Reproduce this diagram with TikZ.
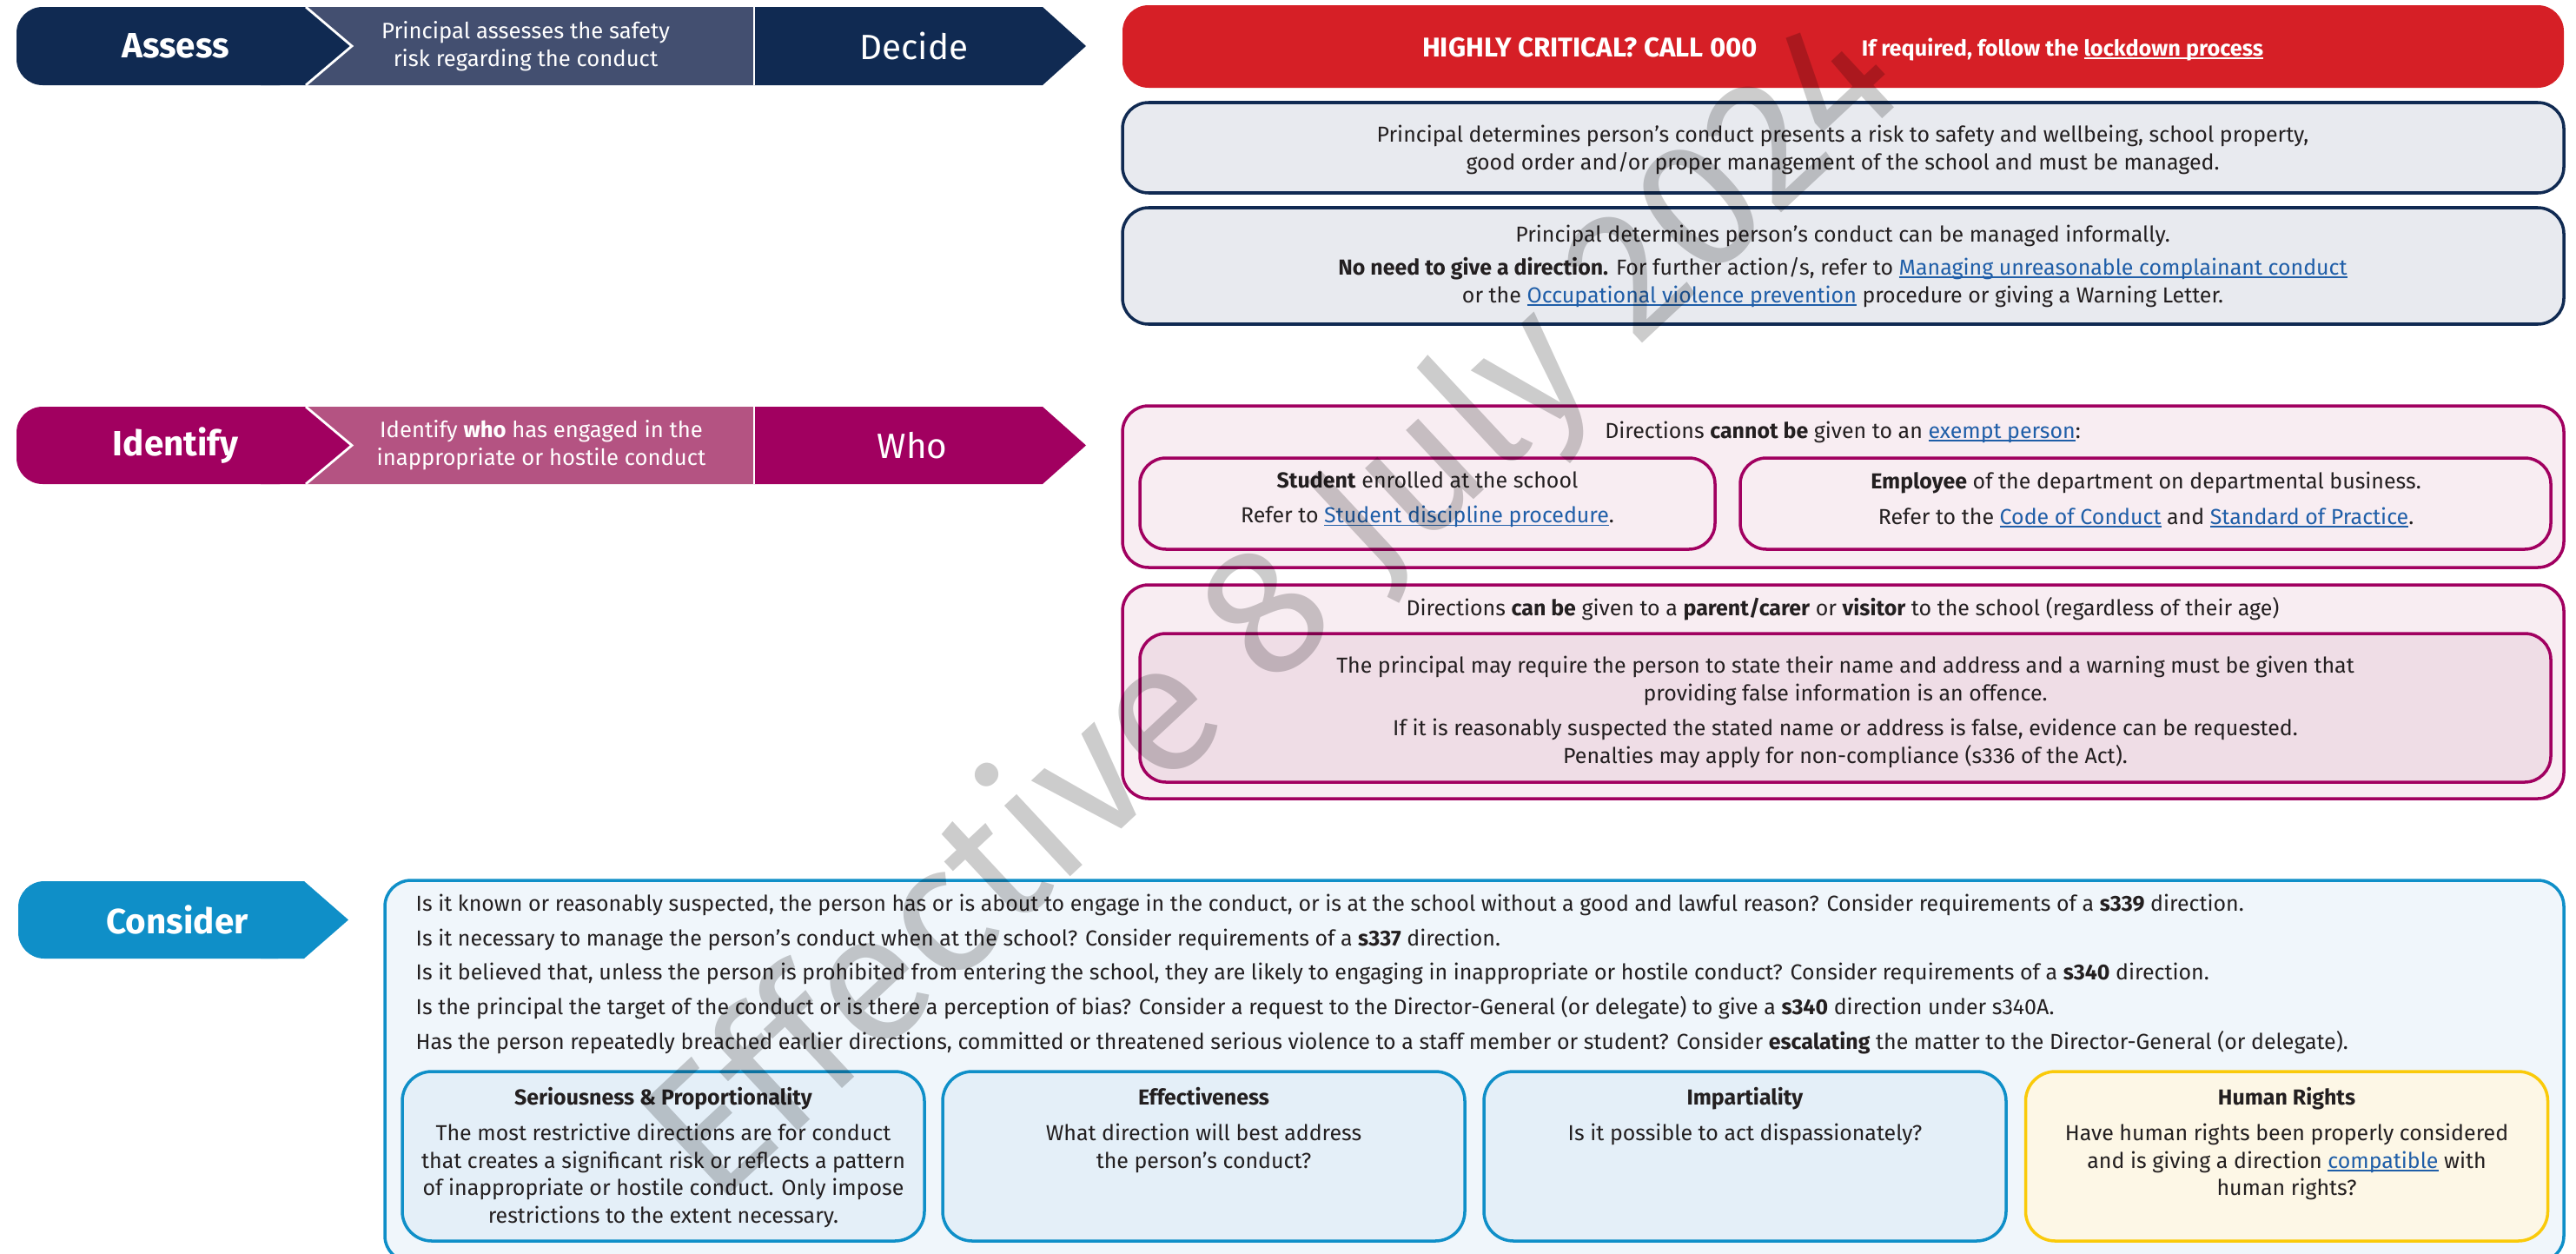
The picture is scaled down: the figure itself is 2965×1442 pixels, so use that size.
\documentclass[tikz,border=0pt]{standalone}
\usepackage{fontspec}
\setmainfont{Fira Sans}
\newfontfamily\wmfont{Fira Sans}
\definecolor{navy}{RGB}{16,42,82}
\definecolor{slate}{RGB}{67,79,112}
\definecolor{critred}{RGB}{214,31,38}
\definecolor{grayfill}{RGB}{232,234,239}
\definecolor{magenta}{RGB}{161,0,96}
\definecolor{magmid}{RGB}{180,83,130}
\definecolor{pinkfill}{RGB}{248,237,242}
\definecolor{pinkinner}{RGB}{239,221,230}
\definecolor{cblue}{RGB}{15,143,200}
\definecolor{bigfill}{RGB}{240,246,251}
\definecolor{smallfill}{RGB}{228,239,248}
\definecolor{hryellow}{RGB}{250,202,10}
\definecolor{hrfill}{RGB}{253,247,230}
\definecolor{linkblue}{RGB}{31,94,168}
\definecolor{txt}{RGB}{35,31,32}
\newsavebox\ulbox
\newcommand\ulin[1]{\sbox\ulbox{#1}\rlap{\rule[-1pt]{\wd\ulbox}{0.45pt}}\usebox\ulbox}
\newcommand\lnk[1]{\textcolor{linkblue}{\ulin{#1}}}
\tikzset{
  body/.style={font=\fontsize{7.1}{9.1}\selectfont, text=txt, align=center, inner sep=0pt},
  bodyl/.style={font=\fontsize{7.1}{9.1}\selectfont, text=txt, anchor=base west, inner sep=0pt},
  biglabel/.style={font=\bfseries\fontsize{11.5}{13}\selectfont, text=white, inner sep=0pt},
  bigreg/.style={font=\fontsize{11.5}{13}\selectfont, text=white, inner sep=0pt},
  midtext/.style={font=\fontsize{7.3}{9.1}\selectfont, text=white, align=center, inner sep=0pt},
  rbox/.style={rectangle, rounded corners=3mm, line width=1pt, inner sep=0pt},
  sbox/.style={rectangle, rounded corners=3.4mm, line width=1pt, inner sep=0pt, minimum width=60.1mm, minimum height=19.5mm},
  wm/.style={font=\wmfont\fontsize{60}{60}\selectfont, text=black, text opacity=0.2, rotate=43, inner sep=0pt}
}
\begin{document}
\begin{tikzpicture}[x=0.1mm,y=-0.1mm]
\clip (0,0) rectangle (2965,1442);
\fill[white] (0,0) rectangle (2965,1442);

% ---------- Assess row ----------
\fill[navy, rounded corners=3mm] (19,8) rectangle (352,98);
\fill[navy] (300,8) -- (352,8) -- (405,53) -- (352,98) -- (300,98) -- cycle;
\fill[slate] (352,8) -- (868,8) -- (868,98) -- (352,98) -- (405,53) -- cycle;
\draw[white, line width=0.8pt] (352,8) -- (405,53) -- (352,98);
\fill[navy] (868,8) -- (1200,8) -- (1250,53) -- (1200,98) -- (868,98) -- cycle;
\draw[white, line width=0.5pt] (868,8) -- (868,98);
\node[biglabel] (assess) at (202,53) {Assess};
\node[midtext] (assesstxt) at (605,53) {Principal assesses the safety\\risk regarding the conduct};
\node[bigreg] (decide) at (1052,53) {Decide};

% ---------- Identify row ----------
\fill[magenta, rounded corners=3mm] (19,468) rectangle (352,557);
\fill[magenta] (300,468) -- (352,468) -- (405,512.5) -- (352,557) -- (300,557) -- cycle;
\fill[magmid] (352,468) -- (868,468) -- (868,557) -- (352,557) -- (405,512.5) -- cycle;
\draw[white, line width=0.8pt] (352,468) -- (405,512.5) -- (352,557);
\fill[magenta] (868,468) -- (1200,468) -- (1250,512.5) -- (1200,557) -- (868,557) -- cycle;
\draw[white, line width=0.5pt] (868,468) -- (868,557);
\node[biglabel] (identify) at (202,512.5) {Identify};
\node[midtext] (identifytxt) at (623,512.5) {Identify \textbf{who} has engaged in the\\inappropriate or hostile conduct};
\node[bigreg] (who) at (1050,512.5) {Who};

% ---------- Consider chevron ----------
\fill[cblue, rounded corners=3mm] (21,1014) rectangle (350,1103);
\fill[cblue] (300,1014) -- (350,1014) -- (401,1058.5) -- (350,1103) -- (300,1103) -- cycle;
\node[biglabel] (consider) at (204,1058.5) {Consider};

% ---------- Decide boxes ----------
\node[rbox, fill=critred, minimum width=165.9mm, minimum height=9.5mm] (crit) at (2121.5,53.5) {};
\node[font=\bfseries\fontsize{8.9}{10}\selectfont, text=white, inner sep=0pt] (crit1) at (1830,55) {HIGHLY CRITICAL? CALL 000};
\node[font=\bfseries\fontsize{7.2}{9}\selectfont, text=white, inner sep=0pt] (crit2) at (2374,57) {If required, follow the \ulin{lockdown process}};

\node[rbox, draw=navy, fill=grayfill, minimum width=165.9mm, minimum height=10.4mm] (g1) at (2121.5,170) {};
\node[body] (g1t) at (2121,172) {Principal determines person’s conduct presents a risk to safety and wellbeing, school property,\\good order and/or proper management of the school and must be managed.};

\node[rbox, draw=navy, fill=grayfill, minimum width=165.9mm, minimum height=13.4mm] (g2) at (2121.5,306) {};
\node[body] (g2t) at (2121,306) {Principal determines person’s conduct can be managed informally.\\[1.7pt]\textbf{No need to give a direction.} For further action/s, refer to \lnk{Managing unreasonable complainant conduct}\\or the \lnk{Occupational violence prevention} procedure or giving a Warning Letter.};

% ---------- Who boxes ----------
\node[rbox, draw=magenta, fill=pinkfill, minimum width=165.9mm, minimum height=18.6mm] (p1) at (2121.5,560) {};
\node[body] (p1t) at (2121,497) {Directions \textbf{cannot be} given to an \lnk{exempt person}:};
\node[rbox, draw=magenta, fill=pinkfill, minimum width=66.2mm, minimum height=10.5mm] (stud) at (1643,579.5) {};
\node[body] (studt) at (1643,575) {\textbf{Student} enrolled at the school\\[2.3pt]Refer to \lnk{Student discipline procedure}.};
\node[rbox, draw=magenta, fill=pinkfill, minimum width=93.3mm, minimum height=10.5mm] (emp) at (2469.5,579.5) {};
\node[body] (empt) at (2470,575) {\textbf{Employee} of the department on departmental business.\\[2.3pt]Refer to the \lnk{Code of Conduct} and \lnk{Standard of Practice}.};

\node[rbox, draw=magenta, fill=pinkfill, minimum width=165.9mm, minimum height=24.6mm] (p2) at (2121.5,796) {};
\node[body] (p2t) at (2121,701) {Directions \textbf{can be} given to a \textbf{parent/carer} or \textbf{visitor} to the school (regardless of their age)};
\node[rbox, draw=magenta, fill=pinkinner, minimum width=162.4mm, minimum height=17.1mm] (p2in) at (2124,814.5) {};
\node[body] (p2int) at (2124,819) {The principal may require the person to state their name and address and a warning must be given that\\providing false information is an offence.\\[2.3pt]If it is reasonably suspected the stated name or address is false, evidence can be requested.\\Penalties may apply for non-compliance (s336 of the Act).};

% ---------- Consider box ----------
\node[rbox, draw=cblue, fill=bigfill, minimum width=250.8mm, minimum height=43.9mm] (cbig) at (1697,1232.5) {};
\node[bodyl] (c1) at (478,1048) {Is it known or reasonably suspected, the person has or is about to engage in the conduct, or is at the school without a good and lawful reason? Consider requirements of a \textbf{s339} direction.};
\node[bodyl] (c2) at (478,1088) {Is it necessary to manage the person’s conduct when at the school? Consider requirements of a \textbf{s337} direction.};
\node[bodyl] (c3) at (478,1127) {Is it believed that, unless the person is prohibited from entering the school, they are likely to engaging in inappropriate or hostile conduct? Consider requirements of a \textbf{s340} direction.};
\node[bodyl] (c4) at (478,1167) {Is the principal the target of the conduct or is there a perception of bias? Consider a request to the Director-General (or delegate) to give a \textbf{s340} direction under s340A.};
\node[bodyl] (c5) at (478,1207) {Has the person repeatedly breached earlier directions, committed or threatened serious violence to a staff member or student? Consider \textbf{escalating} the matter to the Director-General (or delegate).};

\node[sbox, draw=cblue, fill=smallfill] (s1) at (763.5,1330.5) {};
\node[sbox, draw=cblue, fill=smallfill] (s2) at (1385.5,1330.5) {};
\node[sbox, draw=cblue, fill=smallfill] (s3) at (2008.5,1330.5) {};
\node[sbox, draw=hryellow, fill=hrfill] (s4) at (2632,1330.5) {};
\node[body, anchor=north] (s1t) at (763.5,1251) {\textbf{Seriousness \& Proportionality}\\[2.3pt]The most restrictive directions are for conduct\\that creates a significant risk or reflects a pattern\\of inappropriate or hostile conduct. Only impose\\restrictions to the extent necessary.};
\node[body, anchor=north] (s2t) at (1385.5,1251) {\textbf{Effectiveness}\\[2.3pt]What direction will best address\\the person’s conduct?};
\node[body, anchor=north] (s3t) at (2008.5,1251) {\textbf{Impartiality}\\[2.3pt]Is it possible to act dispassionately?};
\node[body, anchor=north] (s4t) at (2632,1251) {\textbf{Human Rights}\\[2.3pt]Have human rights been properly considered\\and is giving a direction \lnk{compatible} with\\human rights?};

% ---------- Watermark ----------
\node[wm] (wmark) at (1470,705) {Effective 8 July 2024};
\end{tikzpicture}
\end{document}
